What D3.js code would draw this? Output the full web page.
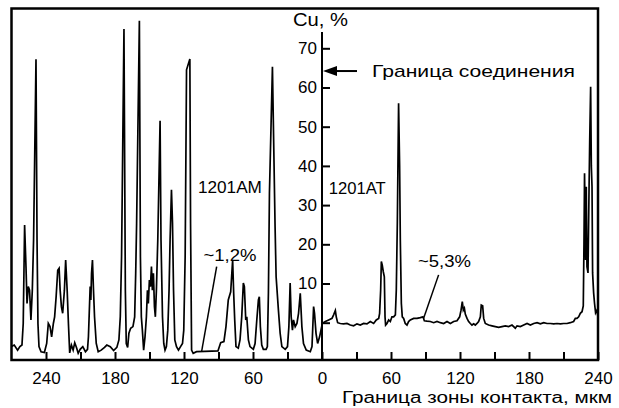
<!DOCTYPE html>
<html>
<head>
<meta charset="utf-8">
<script src="https://cdn.jsdelivr.net/npm/d3@7"></script>
<style>
  body { margin: 0; background: #fff; }
  text { font-family: "Liberation Sans", Arial, sans-serif; fill: #000; }
</style>
</head>
<body>
<svg id="chart" width="619" height="408"></svg>
<script>
// distance from the contact boundary, um (left side: 1201AM)
const leftDist = [270, 267.6, 264.7, 262.7, 260.9, 259.8, 258.6, 257.4, 256.5, 255.4,
  254.3, 253.1, 251.9, 250.8, 248.7, 247.8, 247.0, 246.1, 244.3, 241.4,
  239.4, 238.0, 236.5, 235.1, 233.6, 232.5, 231.2, 229.8, 228.6, 227.7,
  226.6, 225.5, 224.0, 222.9, 221.6, 220.5, 219.4, 217.9, 216.4, 215.0,
  213.5, 212.0, 210.3, 208.0, 205.7, 203.9, 203.1, 202.4, 201.6, 201.0,
  200.4, 199.6, 198.7, 197.8, 196.3, 194.6, 192.0, 189.1, 187.1, 184.1,
  181.2, 178.4, 176.6, 175.4, 174.3, 172.2, 171.0, 170.2, 169.0, 167.9,
  166.4, 164.4, 162.9, 162.0, 161.2, 158.8, 157.9, 157.1, 156.2, 155.1,
  153.9, 152.7, 151.8, 151.0, 150.1, 149.2, 148.3, 147.5, 146.6, 145.7,
  144.9, 144.0, 142.8, 140.8, 140.0, 138.7, 137.6, 136.5, 135.3, 134.1,
  133.0, 132.1, 130.9, 130.0, 129.1, 128.0, 126.5, 124.8, 123.0, 121.3,
  120.2, 119.0, 117.8, 114.9, 114.3, 113.4, 112.0, 109.1, 101.8, 90.5,
  88.1, 85.3, 83.5, 81.5, 79.4, 77.7, 76.8, 75.9, 74.8, 72.8,
  71.3, 69.8, 68.4, 67.5, 66.3, 65.4, 64.0, 62.6, 59.7, 58.2,
  56.7, 55.3, 54.5, 53.6, 52.4, 51.0, 48.6, 47.5, 46.6, 45.7,
  43.1, 40.8, 39.9, 37.9, 36.4, 34.9, 32.0, 30.0, 28.8, 27.7,
  26.8, 25.7, 24.8, 23.3, 21.8, 20.4, 18.9, 17.5, 16.1, 13.7,
  10.2, 8.7, 7.3, 6.5, 5.2, 3.8, 2.1, 0];
const leftCu = [-6.1, -5.7, -7.0, -6.1, -5.7, -0.2, 24.9, 14.3, 4.9, 9.2,
  8.3, 0.7, 8.3, 21.1, 67.2, 21.1, -0.2, -6.1, -7.4, -7.6,
  -5.3, -0.2, -1.0, -3.6, -0.2, 1.5, 6.6, 13.4, 13.9, 8.3,
  4.1, 2.4, 8.3, 16.0, 8.3, -0.2, -7.7, -5.7, -7.0, -5.1,
  -6.3, -7.8, -6.8, -6.1, -7.4, -6.8, -3.6, 2.4, 9.2, 5.8,
  12.6, 16.0, 8.3, 1.5, -5.3, -7.4, -7.0, -6.3, -5.7, -6.1,
  -7.1, -6.3, -4.4, 1.5, 16.8, 74.9, 8.3, -5.3, -6.3, -2.7,
  -1.4, -1.0, 1.5, 12.6, 25.4, 77.0, 16.8, 1.5, -1.9, -7.0,
  -3.6, 1.5, 8.3, 4.9, 10.9, 9.2, 14.3, 8.3, 12.6, 4.1,
  1.5, 8.3, 21.1, 51.5, 21.1, 1.5, -5.3, -7.0, -6.1, -1.9,
  8.3, 21.1, 33.9, 25.4, 8.3, -4.4, -6.1, -7.0, -6.1, -5.3,
  -1.9, 16.8, 64.5, 67.3, 25.4, -7.0, -7.8, -7.4, -7.3, -7.2,
  -5.1, -4.8, -1.0, 5.8, 7.9, 16.0, 7.5, 0.7, -6.1, -6.5,
  -4.4, 1.5, 10.1, 9.2, 0.7, 1.5, -4.4, -6.1, -6.8, -5.3,
  0.7, 5.8, 6.6, -1.0, -5.7, -6.8, -6.8, -6.1, 7.5, 33.0,
  65.3, 24.5, 11.7, 3.2, -2.7, -6.1, -6.8, -6.1, -1.0, 10.1,
  1.5, -1.9, 0.7, -1.0, -0.2, 2.4, 7.5, -1.0, -5.3, -7.0,
  -7.4, -6.1, 4.1, 2.4, -2.7, -5.3, -3.6, -0.6];

// right side: 1201AT
const rightDist = [0, 2.9, 5.8, 8.7, 10.1, 11.6, 12.4, 13.6, 15.9, 18.8,
  21.7, 24.6, 27.5, 30.4, 33.3, 36.2, 39.1, 42.0, 44.9, 47.2,
  49.3, 50.1, 51.0, 51.6, 52.4, 53.3, 54.2, 54.8, 55.3, 56.5,
  58.0, 59.4, 60.8, 62.3, 63.8, 64.6, 65.5, 66.6, 67.5, 68.1,
  69.0, 69.8, 71.0, 72.4, 73.9, 75.3, 76.8, 79.7, 82.6, 85.5,
  87.8, 89.0, 91.3, 94.2, 97.1, 100.0, 102.9, 105.8, 108.7, 111.6,
  114.5, 117.4, 119.7, 120.9, 122.0, 122.9, 123.8, 124.6, 126.1, 127.5,
  129.0, 130.4, 131.9, 133.3, 134.8, 136.2, 137.7, 138.5, 139.7, 140.6,
  142.0, 144.9, 147.8, 150.7, 153.6, 156.5, 159.4, 162.3, 165.2, 168.1,
  169.6, 172.5, 175.4, 178.3, 181.2, 184.1, 187.0, 189.9, 192.8, 195.7,
  198.6, 201.5, 204.4, 207.3, 210.1, 213.0, 215.9, 218.8, 220.3, 221.7,
  223.2, 224.6, 226.1, 227.2, 227.8, 228.3, 229.2, 229.8, 230.4, 231.3,
  232.2, 232.8, 233.6, 234.2, 234.8, 235.3, 236.2, 237.0, 237.9, 239.1,
  240];
const rightCu = [-0.2, 0.3, 0.7, 1.1, 2.0, 3.1, 1.5, 0.0, -0.2, -0.3,
  -0.2, -0.6, -0.8, -0.3, -0.6, -0.2, -0.3, 0.3, -0.2, 0.7,
  1.1, 2.4, 8.3, 15.6, 14.7, 13.0, 11.7, 1.5, -0.6, -0.2,
  0.7, 0.3, 1.5, 1.5, 2.0, 8.3, 25.3, 56.0, 40, 21.1,
  4.9, 1.5, 1.1, -0.2, -0.6, 0.3, 0.7, 1.1, 1.1, 1.3,
  1.5, 0.5, 0.4, 0.3, 0.0, 0.3, 0.0, -0.2, 0.3, -0.2,
  0.3, 0.5, 1.5, 3.2, 5.4, 3.2, 3.7, 2.2, 1.1, 0.3,
  -0.2, -0.6, -0.3, -0.6, -0.2, 0.3, 1.5, 4.5, 4.3, 1.1,
  -0.2, -0.6, -0.8, -1.0, -1.2, -1.0, -0.8, -1.0, -0.6, -1.4,
  -0.8, -1.0, -0.6, -0.2, -0.6, -0.2, 0.0, -0.3, 0.0, -0.2,
  -0.2, -0.3, -0.2, -0.3, -0.2, -0.2, 0.0, 0.3, 1.1, 1.1,
  1.5, 2.4, 2.8, 4.3, 20, 38.1, 16.0, 34.7, 14.3, 12.7,
  33.9, 46.6, 60.2, 40, 34.7, 12.7, 7.6, 4.9, 2.5, 3.2,
  1.5];

const yTicks = [0, 10, 20, 30, 40, 50, 60, 70];
const xTicks = d3.range(-240, 241, 30);

const svg = d3.select("#chart");
const mLeft = 11.5, mRight = 598, mTop = 8.5, mBottom = 360;

// left half is plotted at negative x so distance grows away from the boundary
const x = d3.scaleLinear().domain([-270, 240]).range([mLeft, mRight]);
const y = d3.scaleLinear().domain([0, 70]).range([322.7, 48.3]);

const line = d3.line().x(d => x(d[0])).y(d => y(d[1]));
const leftData = leftDist.map((d, i) => [-d, leftCu[i]]);
const rightData = rightDist.map((d, i) => [d, rightCu[i]]);

svg.append("path").datum(leftData).attr("d", line)
  .attr("fill", "none").attr("stroke", "#000").attr("stroke-width", 1.7);
svg.append("path").datum(rightData).attr("d", line)
  .attr("fill", "none").attr("stroke", "#000").attr("stroke-width", 1.7);

// frame
svg.append("rect")
  .attr("x", mLeft).attr("y", mTop)
  .attr("width", mRight - mLeft).attr("height", mBottom - mTop)
  .attr("fill", "none").attr("stroke", "#000").attr("stroke-width", 2.5);

// bottom axis, ticks pointing up
const xAxis = d3.axisBottom(x)
  .tickValues(xTicks)
  .tickSizeInner(-8).tickSizeOuter(0).tickPadding(12)
  .tickFormat(d => d % 60 === 0 ? Math.abs(d) : "");
const gx = svg.append("g").attr("transform", `translate(0,${mBottom})`).call(xAxis);
gx.select(".domain").remove();
gx.selectAll(".tick line").attr("stroke-width", 2);
gx.selectAll("text").attr("font-size", 17).attr("font-family", null);

// vertical axis at the boundary, ticks pointing right
svg.append("line")
  .attr("x1", x(0)).attr("x2", x(0)).attr("y1", mBottom).attr("y2", 32)
  .attr("stroke", "#000").attr("stroke-width", 2);
const yAxis = d3.axisLeft(y)
  .tickValues(yTicks)
  .tickSizeInner(-8).tickSizeOuter(0).tickPadding(5)
  .tickFormat(d => d === 0 ? "" : d);
const gy = svg.append("g").attr("transform", `translate(${x(0)},0)`).call(yAxis);
gy.select(".domain").remove();
gy.selectAll(".tick line").attr("stroke-width", 2);
gy.selectAll("text").attr("font-size", 17).attr("font-family", null);

svg.append("text").attr("x", 293).attr("y", 26)
  .attr("font-size", 18).attr("textLength", 55).attr("lengthAdjust", "spacingAndGlyphs")
  .text("Cu, %");

// arrow for the joint boundary
const arrowY = y(64.2);
svg.append("line")
  .attr("x1", x(0) + 12).attr("x2", x(0) + 35).attr("y1", arrowY).attr("y2", arrowY)
  .attr("stroke", "#000").attr("stroke-width", 2);
svg.append("path")
  .attr("d", `M${x(0) + 1},${arrowY} L${x(0) + 15},${arrowY - 5} L${x(0) + 15},${arrowY + 5} Z`)
  .attr("fill", "#000");
svg.append("text").attr("x", 372).attr("y", arrowY + 6)
  .attr("font-size", 17).attr("textLength", 203).attr("lengthAdjust", "spacingAndGlyphs")
  .text("Граница соединения");

// series labels
svg.append("text").attr("x", x(-107.9)).attr("y", y(33.0))
  .attr("font-size", 16).attr("textLength", 64).attr("lengthAdjust", "spacingAndGlyphs")
  .text("1201AM");
svg.append("text").attr("x", x(5.9)).attr("y", y(32.8))
  .attr("font-size", 16).attr("textLength", 57).attr("lengthAdjust", "spacingAndGlyphs")
  .text("1201AT");

// average level notes with leaders
svg.append("line")
  .attr("x1", x(-91.6)).attr("y1", y(14.3)).attr("x2", x(-104.7)).attr("y2", y(-7.4))
  .attr("stroke", "#000").attr("stroke-width", 1.5);
svg.append("text").attr("x", x(-103.1)).attr("y", y(15.8))
  .attr("font-size", 17).attr("textLength", 53).attr("lengthAdjust", "spacingAndGlyphs")
  .text("~1,2%");
svg.append("line")
  .attr("x1", x(101.4)).attr("y1", y(12.2)).attr("x2", x(88.3)).attr("y2", y(1.1))
  .attr("stroke", "#000").attr("stroke-width", 1.5);
svg.append("text").attr("x", x(83.4)).attr("y", y(14.1))
  .attr("font-size", 17).attr("textLength", 53).attr("lengthAdjust", "spacingAndGlyphs")
  .text("~5,3%");

svg.append("text").attr("x", 612).attr("y", 403).attr("text-anchor", "end")
  .attr("font-size", 16).attr("textLength", 270).attr("lengthAdjust", "spacingAndGlyphs")
  .text("Граница зоны контакта, мкм");
</script>
</body>
</html>
